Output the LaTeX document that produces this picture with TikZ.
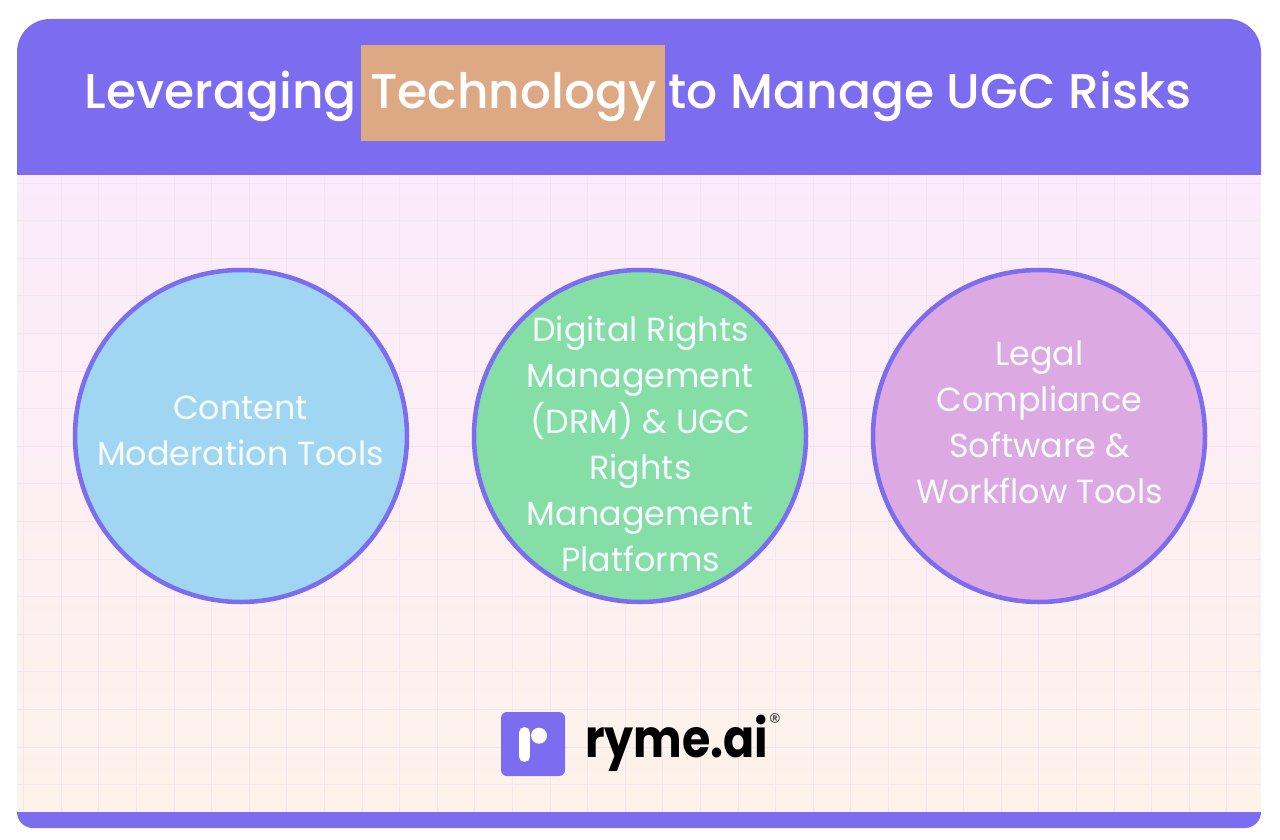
\documentclass[tikz,border=0pt]{standalone}
\usepackage{fontspec}
\setmainfont{Poppins}
\newfontfamily\titlefont{Poppins Medium}
\newfontfamily\logofont{Poppins Bold}
\usetikzlibrary{calc}
\definecolor{rymeviolet}{HTML}{7B6CF0}
\definecolor{tagorange}{HTML}{DDA985}
\definecolor{gridline}{HTML}{F2E7F1}
\definecolor{bgtop}{HTML}{FBEBFB}
\definecolor{bgmiddle}{HTML}{FBEDF8}
\definecolor{bgbottom}{HTML}{FDF3EA}
\definecolor{toolblue}{HTML}{A0D6F2}
\definecolor{toolgreen}{HTML}{86DEA7}
\definecolor{toolpurple}{HTML}{DDA9E2}
\tikzset{
  toolcircle/.style={circle,draw=rymeviolet,line width=4.5pt,minimum size=332pt,inner sep=0pt},
  toollabel/.style={inner sep=0pt,text=white!92!toolblue,align=center,font=\fontsize{33.4}{46}\selectfont},
  titleword/.style={text=white,font=\titlefont\fontsize{48.7}{50}\selectfont,inner sep=0pt,anchor=base},
}
\begin{document}
\begin{tikzpicture}[x=1pt,y=-1pt]
\useasboundingbox (0,0) rectangle (1280,840);
\fill[white] (0,0) rectangle (1280,840);
% card
\begin{scope}
\clip (17,175) rectangle (1261,812);
\shade[top color=bgtop,middle color=bgmiddle,bottom color=bgbottom] (17,175) rectangle (1261,812);
\foreach \i in {0,...,32} {
  \draw[gridline,line width=0.8pt] ({23.5+37.6*\i},175) -- ({23.5+37.6*\i},812);
}
\foreach \j in {0,...,16} {
  \draw[gridline,line width=0.8pt] (17,{183+37.6*\j}) -- (1261,{183+37.6*\j});
}
\end{scope}
% header and foot
\fill[rymeviolet] (17,175) -- (17,52) arc[start angle=180,end angle=270,radius=33] -- (1228,19)
  arc[start angle=270,end angle=360,radius=33] -- (1261,175) -- cycle;
\fill[rymeviolet] (17,812) arc[start angle=180,end angle=90,radius=16] -- (1245,828)
  arc[start angle=90,end angle=0,radius=16] -- cycle;
% title
\node[fill=tagorange,minimum width=304pt,minimum height=96pt,inner sep=0pt] (tag) at (513,93) {};
\node[titleword] (tech) at (513.5,109) {Technology};
\node[titleword,anchor=base east] (lev) at (357,109) {Leveraging};
\node[titleword,anchor=base west] (rest) at (668.5,109) {to Manage UGC Risks};
% circles
\node[toolcircle,fill=toolblue] (moderation) at (241,436) {};
\node[toolcircle,fill=toolgreen] (drm) at (640,436) {};
\node[toolcircle,fill=toolpurple] (legal) at (1039,436) {};
\node[toollabel] (moderationtext) at (240.5,431) {Content\\Moderation Tools};
\node[toollabel] (drmtext) at (640.5,444) {Digital Rights\\Management\\(DRM) \& UGC\\Rights\\Management\\Platforms};
\node[toollabel] (legaltext) at (1039.5,422.5) {Legal\\Compliance\\Software \&\\Workflow Tools};
% logo
\node[fill=rymeviolet,rounded corners=6pt,minimum size=64pt,inner sep=0pt] (logobox) at (533,744) {};
\draw[white,line width=11pt,line cap=round] (524.5,732.5) -- (524.5,756.5);
\fill[white] (539,735.7) circle (8pt);
\node[inner sep=0pt,anchor=base west,xscale=0.866,font=\logofont\fontsize{53}{53}\selectfont] (logotext) at (585,757) {ryme.ai};
\node[inner sep=0pt,anchor=base,text=black!70,font=\fontsize{24}{24}\selectfont] (logomark) at (775,730.5) {®};
\end{tikzpicture}
\end{document}
